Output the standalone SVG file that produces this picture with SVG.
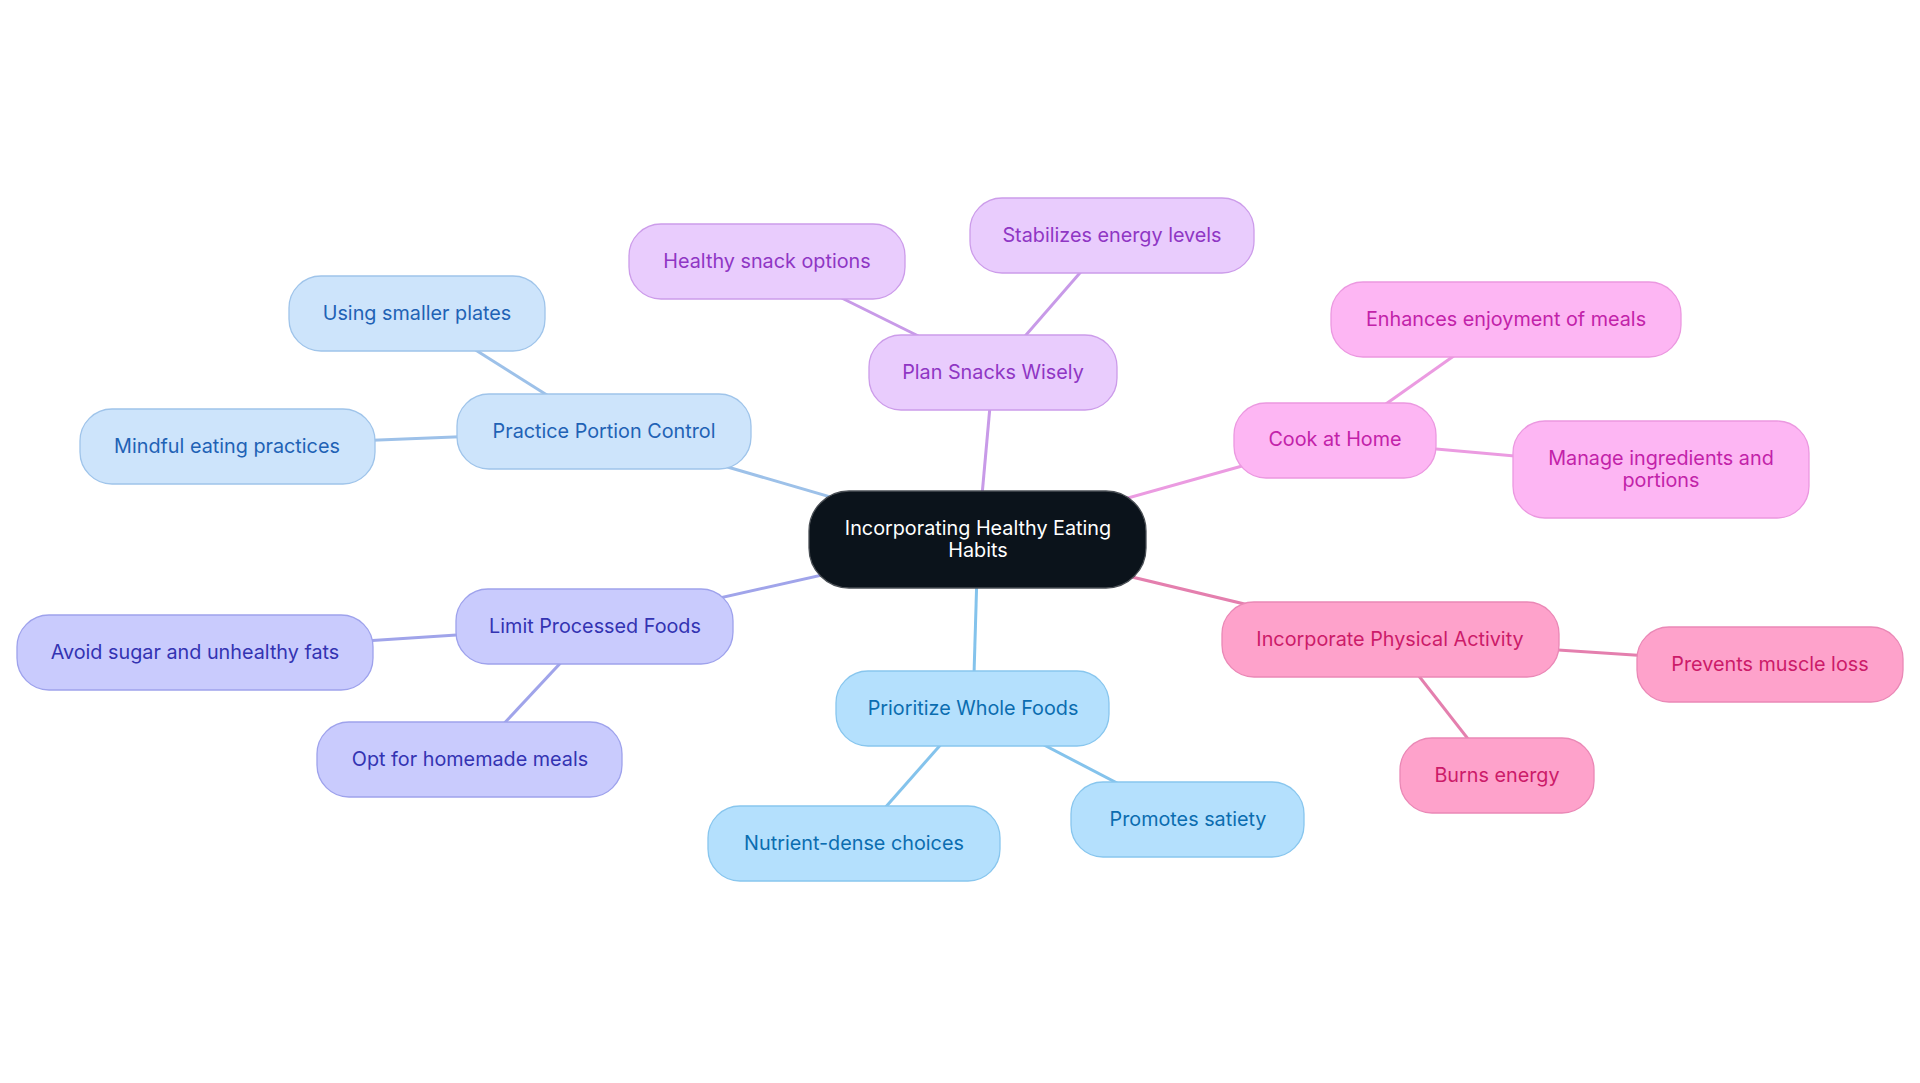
<svg xmlns="http://www.w3.org/2000/svg" width="1920" height="1083" viewBox="0 0 1920 1083">
<style>
text{font-family:Inter,"Noto Sans","Liberation Sans",sans-serif;font-size:19.8px;text-anchor:middle;dominant-baseline:central}
.e{stroke-width:3;fill:none}
.n{stroke-width:1.3}
.b1 rect{fill:#cde4fb;stroke:#9fc4ea}.b1 text{fill:#1f62b5}
.p1 rect{fill:#e9ccfd;stroke:#cc9cea}.p1 text{fill:#8f36c4}
.m1 rect{fill:#fdb6f3;stroke:#eb98e0}.m1 text{fill:#c222a9}
.h1 rect{fill:#fea2cb;stroke:#ea88b6}.h1 text{fill:#cc1b69}
.s1 rect{fill:#b4e0fd;stroke:#88c6ee}.s1 text{fill:#0b6db0}
.l1 rect{fill:#c9cbfd;stroke:#9ea2ec}.l1 text{fill:#3333b2}
</style>
<rect width="1920" height="1083" fill="#ffffff"/>
<g id="connectors">
<line class="e" stroke="#9dc1e9" x1="978" y1="540" x2="604" y2="431"/>
<line class="e" stroke="#9dc1e9" x1="604" y1="431" x2="417" y2="313"/>
<line class="e" stroke="#9dc1e9" x1="604" y1="431" x2="227" y2="446"/>
<line class="e" stroke="#c89ae8" x1="978" y1="540" x2="993" y2="373"/>
<line class="e" stroke="#c89ae8" x1="993" y1="373" x2="767" y2="261"/>
<line class="e" stroke="#c89ae8" x1="993" y1="373" x2="1112" y2="236"/>
<line class="e" stroke="#eb9be1" x1="978" y1="540" x2="1335" y2="440"/>
<line class="e" stroke="#eb9be1" x1="1335" y1="440" x2="1506" y2="319"/>
<line class="e" stroke="#eb9be1" x1="1335" y1="440" x2="1661" y2="469"/>
<line class="e" stroke="#e47fae" x1="978" y1="540" x2="1390" y2="639"/>
<line class="e" stroke="#e47fae" x1="1390" y1="639" x2="1770" y2="664"/>
<line class="e" stroke="#e47fae" x1="1390" y1="639" x2="1497" y2="776"/>
<line class="e" stroke="#84c3ec" x1="978" y1="540" x2="973" y2="708"/>
<line class="e" stroke="#84c3ec" x1="973" y1="708" x2="854" y2="843"/>
<line class="e" stroke="#84c3ec" x1="973" y1="708" x2="1188" y2="820"/>
<line class="e" stroke="#a0a4ea" x1="978" y1="540" x2="595" y2="626"/>
<line class="e" stroke="#a0a4ea" x1="595" y1="626" x2="195" y2="652"/>
<line class="e" stroke="#a0a4ea" x1="595" y1="626" x2="470" y2="760"/>
</g>
<g id="root">
<rect x="809" y="491" width="337" height="97" rx="40" fill="#0b131b" stroke="#4a4f55" stroke-width="1.3"/>
<text x="978" y="528" fill="#ffffff">Incorporating Healthy Eating</text>
<text x="978" y="550" fill="#ffffff">Habits</text>
</g>
<g id="practice-portion-control" class="b1 n"><rect x="457" y="394" width="294" height="75" rx="32"/><text x="604" y="431">Practice Portion Control</text></g>
<g id="using-smaller-plates" class="b1 n"><rect x="289" y="276" width="256" height="75" rx="32"/><text x="417" y="313">Using smaller plates</text></g>
<g id="mindful-eating" class="b1 n"><rect x="80" y="409" width="295" height="75" rx="32"/><text x="227" y="446">Mindful eating practices</text></g>
<g id="plan-snacks" class="p1 n"><rect x="869" y="335" width="248" height="75" rx="32"/><text x="993" y="372">Plan Snacks Wisely</text></g>
<g id="healthy-snack" class="p1 n"><rect x="629" y="224" width="276" height="75" rx="32"/><text x="767" y="261">Healthy snack options</text></g>
<g id="stabilizes-energy" class="p1 n"><rect x="970" y="198" width="284" height="75" rx="32"/><text x="1112" y="235">Stabilizes energy levels</text></g>
<g id="cook-at-home" class="m1 n"><rect x="1234" y="403" width="202" height="75" rx="32"/><text x="1335" y="439">Cook at Home</text></g>
<g id="enhances-enjoyment" class="m1 n"><rect x="1331" y="282" width="350" height="75" rx="32"/><text x="1506" y="319">Enhances enjoyment of meals</text></g>
<g id="manage-ingredients" class="m1 n"><rect x="1513" y="421" width="296" height="97" rx="32"/><text x="1661" y="458">Manage ingredients and</text><text x="1661" y="480">portions</text></g>
<g id="physical-activity" class="h1 n"><rect x="1222" y="602" width="337" height="75" rx="32"/><text x="1390" y="639">Incorporate Physical Activity</text></g>
<g id="prevents-muscle-loss" class="h1 n"><rect x="1637" y="627" width="266" height="75" rx="32"/><text x="1770" y="664">Prevents muscle loss</text></g>
<g id="burns-energy" class="h1 n"><rect x="1400" y="738" width="194" height="75" rx="32"/><text x="1497" y="775">Burns energy</text></g>
<g id="whole-foods" class="s1 n"><rect x="836" y="671" width="273" height="75" rx="32"/><text x="973" y="708">Prioritize Whole Foods</text></g>
<g id="nutrient-dense" class="s1 n"><rect x="708" y="806" width="292" height="75" rx="32"/><text x="854" y="843">Nutrient-dense choices</text></g>
<g id="promotes-satiety" class="s1 n"><rect x="1071" y="782" width="233" height="75" rx="32"/><text x="1188" y="819">Promotes satiety</text></g>
<g id="limit-processed" class="l1 n"><rect x="456" y="589" width="277" height="75" rx="32"/><text x="595" y="626">Limit Processed Foods</text></g>
<g id="avoid-sugar" class="l1 n"><rect x="17" y="615" width="356" height="75" rx="32"/><text x="195" y="652">Avoid sugar and unhealthy fats</text></g>
<g id="homemade-meals" class="l1 n"><rect x="317" y="722" width="305" height="75" rx="32"/><text x="470" y="759">Opt for homemade meals</text></g>
</svg>
